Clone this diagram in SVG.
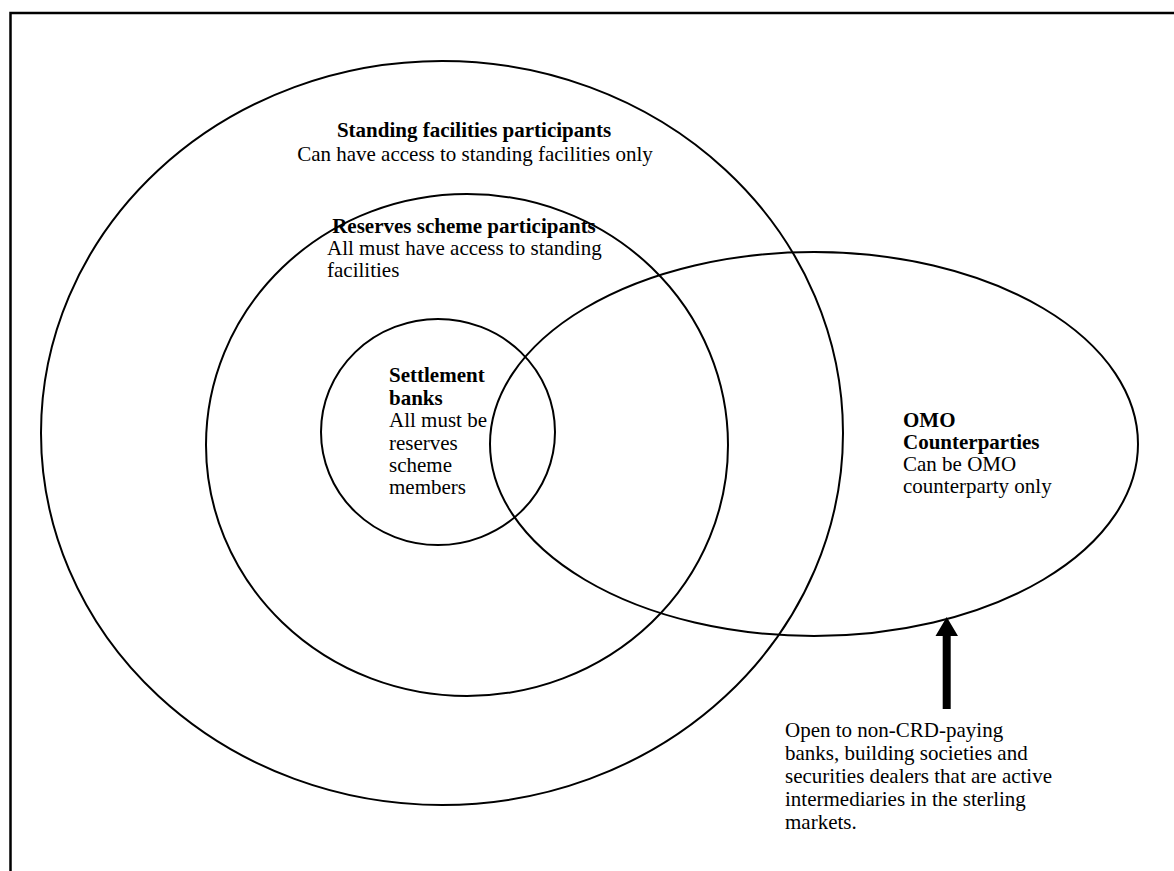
<svg xmlns="http://www.w3.org/2000/svg" width="1174" height="871" viewBox="0 0 1174 871">
<style>
.e{fill:none;stroke:#000;stroke-width:2}
text{font-family:"Liberation Serif","Times New Roman",serif;font-size:21px;fill:#000}
.b{font-weight:bold}
</style>
<rect width="1174" height="871" fill="#fff"/>
<g id="frame">
<path d="M1174 13H10.5V871" fill="none" stroke="#000" stroke-width="2.5"/>
</g>
<g id="standing">
<ellipse class="e" cx="442" cy="433" rx="401" ry="372"/>
<text x="474" y="137" text-anchor="middle" class="b">Standing facilities participants</text>
<text x="475" y="161" text-anchor="middle">Can have access to standing facilities only</text>
</g>
<g id="reserves">
<ellipse class="e" cx="467" cy="445" rx="261" ry="251"/>
<text x="464" y="233" text-anchor="middle" class="b">Reserves scheme participants</text>
<text x="327" y="255">All must have access to standing</text>
<text x="327" y="277">facilities</text>
</g>
<g id="settlement">
<ellipse class="e" cx="438" cy="432" rx="117" ry="113"/>
<text x="389" y="382" class="b">Settlement</text>
<text x="389" y="405" class="b">banks</text>
<text x="389" y="427">All must be</text>
<text x="389" y="450">reserves</text>
<text x="389" y="472">scheme</text>
<text x="389" y="494">members</text>
</g>
<g id="omo">
<ellipse class="e" cx="814" cy="444" rx="324" ry="192"/>
<text x="903" y="427" class="b">OMO</text>
<text x="903" y="449" class="b">Counterparties</text>
<text x="903" y="471">Can be OMO</text>
<text x="903" y="493">counterparty only</text>
</g>
<g id="connectors">
<path d="M942.7 709V636H935.5L946.7 617L958 636H950.7V709Z" fill="#000"/>
</g>
<g id="note">
<text x="785" y="737">Open to non-CRD-paying</text>
<text x="785" y="760">banks, building societies and</text>
<text x="785" y="783">securities dealers that are active</text>
<text x="785" y="806">intermediaries in the sterling</text>
<text x="785" y="829">markets.</text>
</g>
</svg>
